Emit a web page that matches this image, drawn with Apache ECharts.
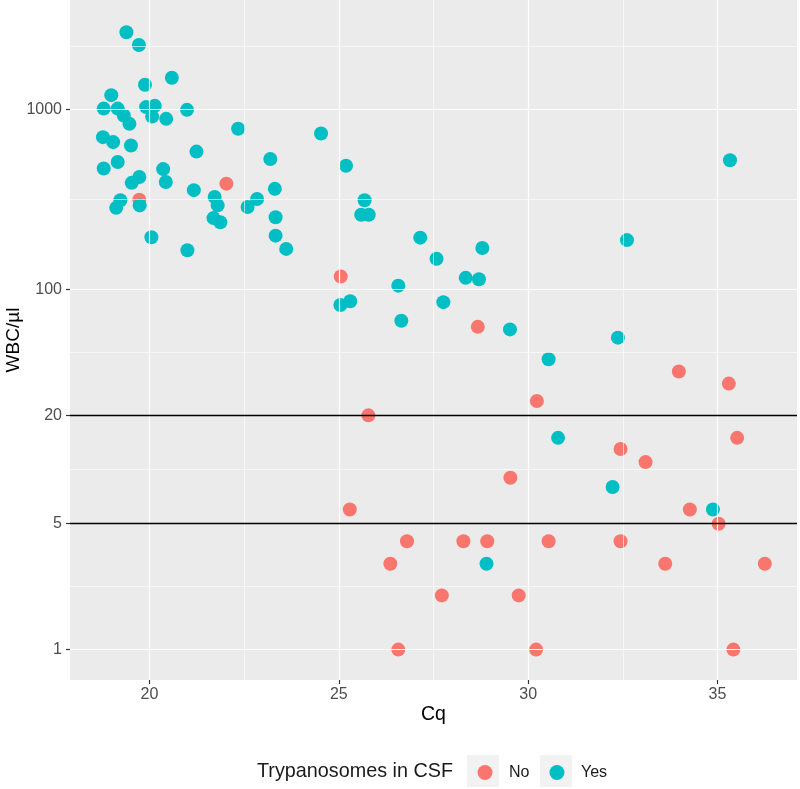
<!DOCTYPE html>
<html><head><meta charset="utf-8">
<script src="https://cdn.jsdelivr.net/npm/echarts@6/dist/echarts.min.js"></script>
<style>html,body{margin:0;padding:0;background:#fff}#c{width:800px;height:789px}</style>
</head><body><div id="c"></div>
<script>
// Data: [Cq, WBC/µl]
const noPoints = [
  [22.03,387],[19.73,315],[25.05,118],[28.67,62],[33.98,35],[35.30,30],[30.23,24],[25.78,20],
  [35.52,15],[32.44,13],[33.10,11],[29.53,9],[34.27,6],[25.29,6],[35.03,5],[26.80,4],
  [28.29,4],[28.92,4],[30.54,4],[32.44,4],[26.36,3],[33.62,3],[36.25,3],[27.72,2],
  [29.75,2],[26.57,1],[30.21,1],[35.42,1]
];
const yesPoints = [
  [19.39,2680],[19.72,2280],[20.59,1500],[19.88,1370],[18.99,1200],[18.79,1010],[19.16,1010],
  [19.32,924],[19.47,831],[19.91,1030],[20.14,1046],[20.07,912],[20.44,886],[20.99,994],
  [22.34,780],[24.53,734],[18.77,701],[19.04,658],[19.51,630],[21.24,583],[23.19,530],
  [25.19,486],[18.79,470],[19.16,510],[20.36,466],[19.73,421],[19.53,391],[20.43,395],
  [21.17,356],[23.31,362],[21.72,326],[21.80,293],[22.84,318],[22.59,287],[19.23,313],
  [19.12,284],[19.74,293],[25.68,313],[25.59,260],[25.79,260],[21.69,249],[21.87,236],
  [23.33,252],[23.33,199],[23.61,168],[20.05,195],[21.00,165],[25.04,82],[25.30,86],
  [26.57,105],[26.65,67],[35.33,522],[27.15,194],[27.58,148],[28.79,170],[28.35,116],
  [28.70,114],[32.61,188],[27.76,85],[29.52,60],[32.37,54],[30.54,41],[30.79,15],
  [32.23,8],[34.88,6],[28.90,3]
];
const xTicks = [20, 25, 30, 35];
const xMinor = [22.5, 27.5, 32.5];
const yTicks = [1, 5, 20, 100, 1000];
const yMinor = [2.236, 10, 44.72, 316.2, 2236];
const thresholds = [5, 20];
const seriesNames = ['No', 'Yes'];
const colors = ['#F8766D', '#00BFC4'];

const font = '"Liberation Sans", Arial, Helvetica, sans-serif';
const gl = [];
xMinor.forEach(v => gl.push({xAxis: v, lineStyle: {color: '#FFFFFF', width: 0.6, type: 'solid'}}));
yMinor.forEach(v => gl.push({yAxis: v, lineStyle: {color: '#FFFFFF', width: 0.6, type: 'solid'}}));
xTicks.forEach(v => gl.push({xAxis: v, lineStyle: {color: '#FFFFFF', width: 1.2, type: 'solid'}}));
yTicks.forEach(v => gl.push({yAxis: v, lineStyle: {color: '#FFFFFF', width: 1.2, type: 'solid'}}));
thresholds.forEach(v => gl.push({yAxis: v, lineStyle: {color: '#000000', width: 1.4, type: 'solid'}}));

const chart = echarts.init(document.getElementById('c'));
chart.setOption({
  animation: false,
  textStyle: {fontFamily: font},
  grid: {left: 70, right: 3, top: 0, bottom: 109, show: true, backgroundColor: '#EBEBEB', borderWidth: 0,
    containLabel: false, outerBoundsMode: 'none'},
  xAxis: {
    type: 'value', min: 17.9, max: 37.1,
    name: 'Cq', nameLocation: 'middle', nameGap: 25, nameMoveOverlap: false,
    nameTextStyle: {fontSize: 19.5, color: '#000', fontFamily: font},
    axisLine: {show: false},
    axisTick: {show: true, length: 4, lineStyle: {color: '#333333', width: 1.2}, customValues: xTicks},
    axisLabel: {customValues: xTicks, color: '#4D4D4D', fontSize: 16, margin: 7, fontFamily: font},
    splitLine: {show: false}
  },
  yAxis: {
    type: 'log', logBase: 10, min: 0.678, max: 4050,
    name: 'WBC/µl', nameLocation: 'middle', nameGap: 47, nameMoveOverlap: false,
    nameTextStyle: {fontSize: 19, color: '#000', fontFamily: font},
    axisLine: {show: false},
    axisTick: {show: true, length: 4, lineStyle: {color: '#333333', width: 1.2}, customValues: yTicks},
    axisLabel: {customValues: yTicks, color: '#4D4D4D', fontSize: 16, margin: 8, fontFamily: font,
      formatter: v => String(Math.round(v))},
    splitLine: {show: false}, minorSplitLine: {show: false}
  },
  legend: {
    left: 477.5, top: 764.5, padding: 0, itemWidth: 15, itemHeight: 15, itemGap: 20, icon: 'circle',
    textStyle: {fontSize: 16, color: '#1A1A1A', fontFamily: font, padding: [0, 0, 0, 11.5]},
    data: seriesNames
  },
  graphic: [
    {type: 'rect', left: 467, top: 755, shape: {width: 32, height: 32}, style: {fill: '#F2F2F2'}},
    {type: 'rect', left: 540, top: 755, shape: {width: 32, height: 32}, style: {fill: '#F2F2F2'}},
    {type: 'text', left: 257, top: 762, style: {text: 'Trypanosomes in CSF', fontSize: 19.8, fill: '#1A1A1A', fontFamily: font}}
  ],
  series: [
    {type: 'scatter', name: '_grid', data: [], z: 1, silent: true,
      markLine: {silent: true, symbol: 'none', label: {show: false}, animation: false, data: gl}},
    {type: 'scatter', name: seriesNames[0], data: noPoints, symbolSize: 14, z: 3,
      itemStyle: {color: colors[0], opacity: 1}},
    {type: 'scatter', name: seriesNames[1], data: yesPoints, symbolSize: 14, z: 4,
      itemStyle: {color: colors[1], opacity: 1}}
  ]
});
</script>
</body></html>
